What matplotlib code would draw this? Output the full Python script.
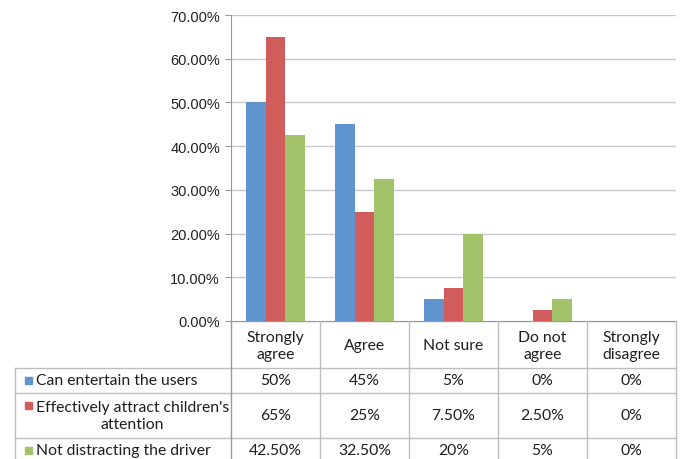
import matplotlib.pyplot as plt
from matplotlib.patches import Rectangle
import numpy as np

categories = ["Strongly\nagree", "Agree", "Not sure", "Do not\nagree", "Strongly\ndisagree"]
series_names = ["Can entertain the users",
                "Effectively attract children's\nattention",
                "Not distracting the driver"]
entertain = [50, 45, 5, 0, 0]
attract = [65, 25, 7.5, 2.5, 0]
not_distracting = [42.5, 32.5, 20, 5, 0]
table_text = [["50%", "45%", "5%", "0%", "0%"],
              ["65%", "25%", "7.50%", "2.50%", "0%"],
              ["42.50%", "32.50%", "20%", "5%", "0%"]]
colors = ["#5F94CE", "#D05C5B", "#A3C36A"]

W, H = 680, 460
fig = plt.figure(figsize=(6.8, 4.6), dpi=100)

# plot area in pixels
px_left, px_right, px_top, px_axis = 231, 676, 16, 322
ax = fig.add_axes([px_left / W, 1 - px_axis / H, (px_right - px_left) / W, (px_axis - px_top) / H])

values = [entertain, attract, not_distracting]
x = np.arange(len(categories)) + 0.5
bw = 0.22
for i, vals in enumerate(values):
    ax.bar(x + (i - 1) * bw, vals, width=bw, color=colors[i], zorder=3)

ax.set_xlim(0, len(categories))
ax.set_ylim(0, 70)
ax.set_yticks(np.arange(0, 71, 10))
ax.set_yticklabels(["%.2f%%" % v for v in np.arange(0, 71, 10)],
                   family="Liberation Sans", fontsize=10.5, color="#222222")
ax.set_xticks([])
ax.grid(axis="y", color="#C8C8C8", linewidth=1, zorder=0)
for s in ["top", "right", "bottom"]:
    ax.spines[s].set_visible(False)
ax.spines["left"].set_color("#999999")
ax.tick_params(axis="y", length=4, color="#999999", pad=4)

# data table drawn in pixel coordinates
tab = fig.add_axes([0, 0, 1, 1], zorder=-1)
tab.set_xlim(0, W)
tab.set_ylim(H, 0)
tab.axis("off")

row_lines = [369, 394, 439, 464]
col_w = (px_right - px_left) / len(categories)
cols = [px_left + k * col_w for k in range(len(categories) + 1)]
table_left = 15
line_c = "#BDBDBD"
tab.plot([px_left, px_right], [px_axis, px_axis], color="#999999", lw=1)
for y in row_lines:
    tab.plot([table_left, px_right], [y, y], color=line_c, lw=1)
for cx in cols:
    tab.plot([cx, cx], [px_axis, row_lines[-1]], color="#999999" if cx == px_left else line_c, lw=1)
tab.plot([table_left, table_left], [row_lines[0], row_lines[-1]], color=line_c, lw=1)

tfont = dict(family="Lato", fontsize=11.3, color="#1E1E1E")
for k, c in enumerate(categories):
    tab.text(cols[k] + col_w / 2, (px_axis + row_lines[0]) / 2 + 1, c,
             ha="center", va="center", linespacing=1.35, **tfont)

for r, name in enumerate(series_names):
    yc = (row_lines[r] + row_lines[r + 1]) / 2
    if r == 1:
        first = row_lines[r] + 12
        tab.add_patch(Rectangle((25, first - 3.5), 7, 7, color=colors[r]))
        tab.text(36, yc, name, ha="left", va="center", multialignment="center",
                 linespacing=1.35, **tfont)
    else:
        ty = yc if r == 0 else row_lines[r] + 12
        tab.add_patch(Rectangle((25, ty - 3.5), 7, 7, color=colors[r]))
        tab.text(36, ty, name, ha="left", va="center", **tfont)
    for k, t in enumerate(table_text[r]):
        ty = yc if r < 2 else row_lines[r] + 12
        tab.text(cols[k] + col_w / 2, ty, t, ha="center", va="center", **tfont)

fig.savefig("out.png", dpi=100)
